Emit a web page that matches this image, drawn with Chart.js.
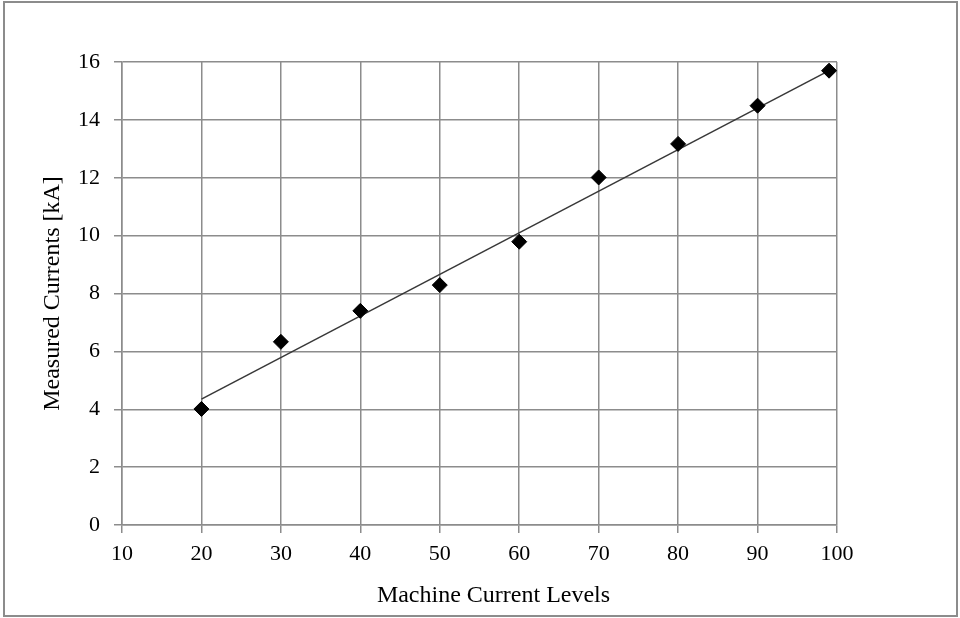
<!DOCTYPE html>
<html>
<head>
<meta charset="utf-8">
<script src="https://cdn.jsdelivr.net/npm/chart.js@4"></script>
<style>
  html, body { margin: 0; padding: 0; background: #fff; }
  #wrap { width: 960px; height: 618px; }
</style>
</head>
<body>
<div id="wrap"><canvas id="chart" width="960" height="618"></canvas></div>
<script>
// values
var machineLevels = [20, 30, 40, 50, 60, 70, 80, 90, 99];
var measuredCurrents = [4.01, 6.33, 7.40, 8.29, 9.79, 12.01, 13.17, 14.49, 15.70];
// trend line end points (as drawn in the reference)
var trendX = [20, 99];
var trendY = [4.35, 15.7];

var xMin = 10, xMax = 100, xStep = 10;
var yMin = 0, yMax = 16, yStep = 2;

var xTitle = 'Machine Current Levels';
var yTitle = 'Measured Currents [kA]';

var gridColor = '#8c8c8c';
var serif = 'Liberation Serif';

var points = machineLevels.map(function (x, i) { return { x: x, y: measuredCurrents[i] }; });
var trend = trendX.map(function (x, i) { return { x: x, y: trendY[i] }; });

// outer frame around the whole picture, and the x title (sits a bit right of centre in the original)
var framePlugin = {
    id: 'frame',
    beforeDraw: function (chart) {
        var c = chart.ctx;
        c.save();
        c.fillStyle = '#fff';
        c.fillRect(0, 0, chart.width, chart.height);
        c.strokeStyle = gridColor;
        c.lineWidth = 2;
        c.strokeRect(4, 2, 953, 614);
        c.restore();
    },
    afterDraw: function (chart) {
        var c = chart.ctx;
        var area = chart.chartArea;
        c.save();
        c.fillStyle = '#000';
        c.font = '24px "' + serif + '"';
        c.textAlign = 'center';
        c.textBaseline = 'middle';
        c.fillText(xTitle, (area.left + area.right) / 2 + 14, 596);
        c.restore();
    }
};

var ctx = document.getElementById('chart').getContext('2d');
var chart = new Chart(ctx, {
    type: 'scatter',
    data: {
        datasets: [{
            label: 'Trend',
            data: trend,
            showLine: true,
            borderColor: '#383838',
            borderWidth: 1.5,
            pointRadius: 0,
            fill: false,
            order: 2
        }, {
            label: 'Measured',
            data: points,
            pointStyle: 'rectRot',
            pointRadius: 7.5,
            pointBackgroundColor: '#000',
            pointBorderColor: '#000',
            pointBorderWidth: 1,
            order: 1
        }]
    },
    options: {
        responsive: false,
        animation: false,
        layout: { padding: { top: 62, right: 123, left: 0, bottom: 0 } },
        plugins: {
            legend: { display: false },
            tooltip: { enabled: false }
        },
        scales: {
            x: {
                type: 'linear',
                min: xMin, max: xMax,
                afterFit: function (s) { s.height = 93; },
                grid: { color: gridColor, lineWidth: 1.5, tickLength: 8 },
                border: { color: gridColor, width: 1.5 },
                ticks: {
                    stepSize: xStep,
                    padding: 8,
                    color: '#000',
                    font: { family: serif, size: 22 },
                    maxRotation: 0
                }
            },
            y: {
                type: 'linear',
                min: yMin, max: yMax,
                afterFit: function (s) { s.width = 122; },
                grid: { color: gridColor, lineWidth: 1.5, tickLength: 8 },
                border: { color: gridColor, width: 1.5 },
                ticks: {
                    stepSize: yStep,
                    padding: 14,
                    color: '#000',
                    font: { family: serif, size: 22 }
                },
                title: {
                    display: true,
                    text: yTitle,
                    color: '#000',
                    font: { family: serif, size: 24 },
                    padding: { top: 38, bottom: 0 }
                }
            }
        }
    },
    plugins: [framePlugin]
});
</script>
</body>
</html>
